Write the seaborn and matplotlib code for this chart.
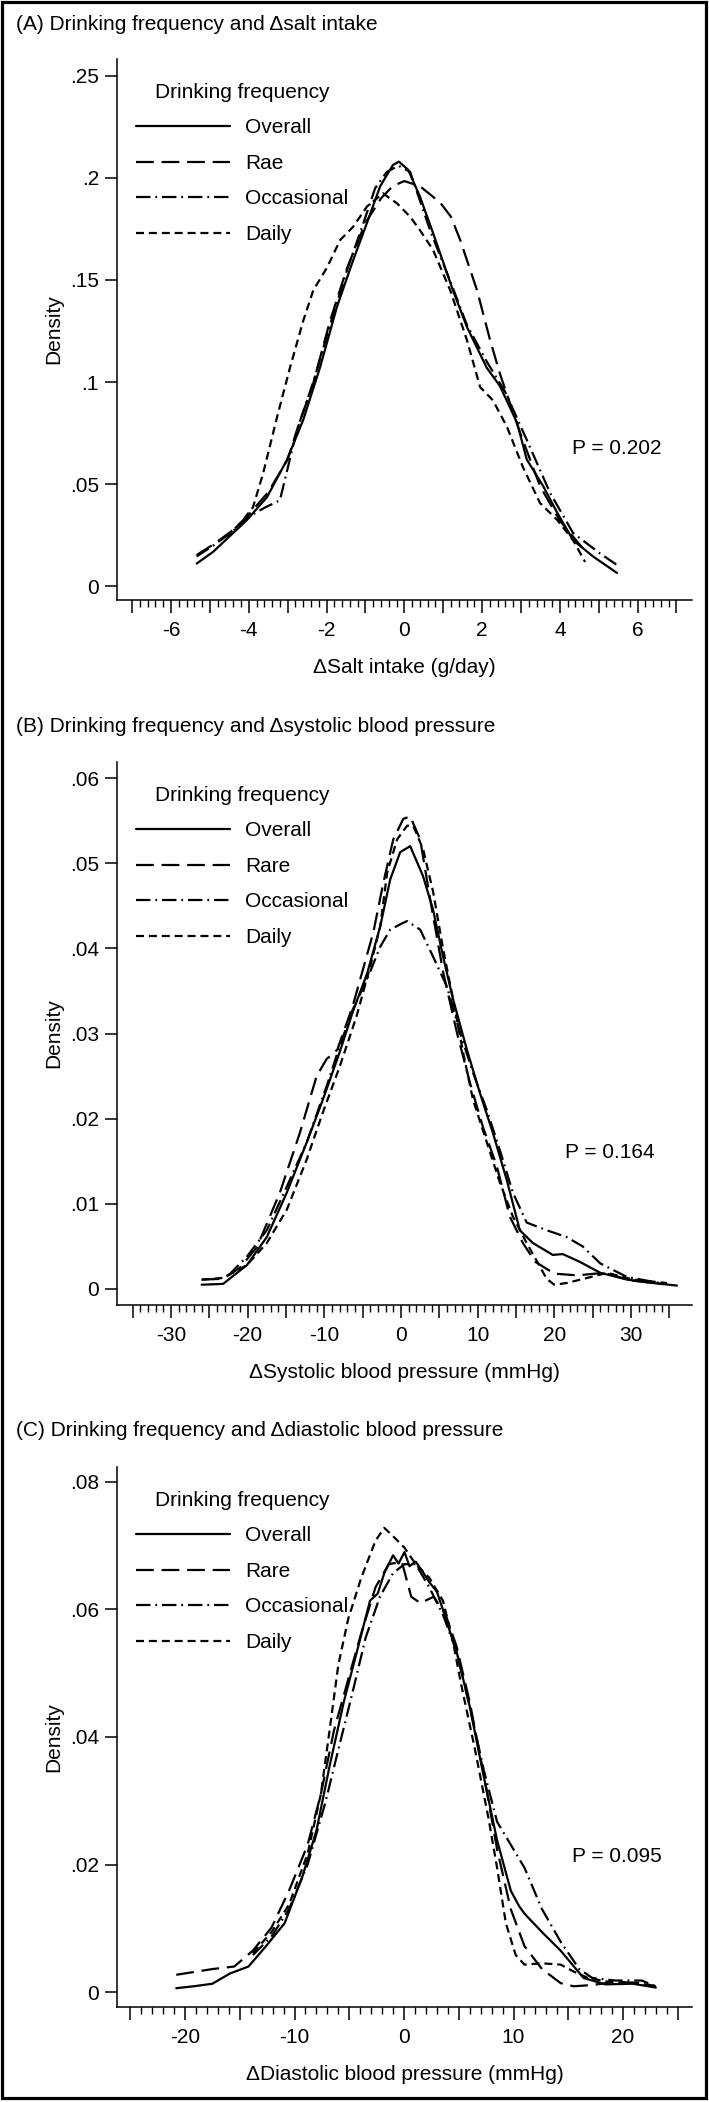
import matplotlib
matplotlib.use("Agg")
import matplotlib.pyplot as plt
import seaborn as sns
import pandas as pd
from matplotlib.patches import Rectangle

sns.set_theme(style="ticks")
plt.rcParams["font.family"] = ["Liberation Sans", "DejaVu Sans"]

# ---------------- data ----------------
# Panel A: delta salt intake (g/day)
a_overall_x = [-5.34, -4.92, -4.05, -3.53, -3.02, -2.6, -2.17, -1.73, -1.31, -0.96, -0.62, -0.29, -0.14, 0.1, 0.4, 0.74, 1.25, 1.61, 2.12, 2.46, 2.9, 3.15, 3.57, 3.93, 4.34, 4.86, 5.47]
a_overall_y = [0.011, 0.0167, 0.0323, 0.0436, 0.0618, 0.0814, 0.107, 0.137, 0.160, 0.178, 0.196, 0.2064, 0.208, 0.204, 0.191, 0.173, 0.145, 0.127, 0.107, 0.098, 0.080, 0.062, 0.049, 0.036, 0.0225, 0.0144, 0.0064]
a_rare_x = [-5.34, -4.9, -4.4, -4.0, -3.5, -3.0, -2.76, -2.34, -1.91, -1.47, -1.0, -0.6, -0.3, 0.0, 0.4, 0.92, 1.2, 1.43, 1.87, 2.2, 2.46, 2.98, 3.49, 4.0, 4.7]
a_rare_y = [0.0152, 0.0205, 0.0275, 0.035, 0.046, 0.062, 0.0765, 0.0995, 0.130, 0.156, 0.178, 0.19, 0.196, 0.1985, 0.196, 0.188, 0.181, 0.170, 0.145, 0.121, 0.104, 0.075, 0.049, 0.032, 0.016]
a_occ_x = [-5.34, -4.9, -4.4, -4.0, -3.58, -3.2, -2.76, -2.34, -1.91, -1.47, -1.05, -0.75, -0.45, -0.15, 0.15, 0.66, 1.25, 1.61, 2.12, 2.6, 3.15, 3.75, 4.34, 5.03, 5.47]
a_occ_y = [0.0145, 0.020, 0.027, 0.034, 0.0385, 0.042, 0.0765, 0.100, 0.128, 0.155, 0.178, 0.195, 0.203, 0.206, 0.203, 0.1745, 0.146, 0.128, 0.110, 0.095, 0.0716, 0.0456, 0.026, 0.016, 0.0103]
a_daily_x = [-4.6, -4.2, -3.89, -3.63, -3.27, -2.94, -2.6, -2.34, -1.99, -1.65, -1.32, -0.96, -0.55, -0.19, 0.15, 0.4, 0.74, 1.18, 1.61, 1.95, 2.28, 2.64, 3.05, 3.49, 3.93, 4.34, 4.65]
a_daily_y = [0.024, 0.031, 0.0387, 0.0553, 0.083, 0.107, 0.130, 0.145, 0.156, 0.1696, 0.176, 0.186, 0.1925, 0.1876, 0.181, 0.1745, 0.1647, 0.145, 0.1206, 0.0975, 0.091, 0.078, 0.0583, 0.0407, 0.0324, 0.0225, 0.0118]

# Panel B: delta systolic blood pressure (mmHg)
b_overall_x = [-26.0, -23.2, -20.1, -17.5, -14.9, -12.3, -10.2, -8.0, -6.3, -4.4, -2.7, -1.4, -0.1, 1.2, 2.87, 4.17, 5.5, 6.8, 8.6, 10.3, 12.0, 13.8, 15.5, 17.2, 19.8, 21.1, 23.3, 26.0, 29.5, 32.9, 36.0]
b_overall_y = [0.0005, 0.0006, 0.0028, 0.0061, 0.0113, 0.0172, 0.0222, 0.0278, 0.0325, 0.0371, 0.0426, 0.0481, 0.0513, 0.052, 0.0485, 0.0446, 0.039, 0.034, 0.0281, 0.023, 0.0183, 0.0128, 0.0069, 0.0054, 0.004, 0.0041, 0.0032, 0.0019, 0.0011, 0.0007, 0.0004]
b_rare_x = [-26.0, -23.2, -21.0, -18.8, -15.8, -13.2, -11.0, -9.7, -8.3, -6.3, -3.6, -2.3, -1.0, 0.3, 1.2, 2.5, 3.8, 5.5, 7.3, 9.0, 10.7, 12.5, 14.2, 15.9, 17.5, 20.0, 23.0, 26.5, 30.0, 34.0]
b_rare_y = [0.0011, 0.0012, 0.0025, 0.0049, 0.0113, 0.0183, 0.025, 0.027, 0.0281, 0.0332, 0.0419, 0.0477, 0.0528, 0.0552, 0.0555, 0.0528, 0.0458, 0.0372, 0.0301, 0.0242, 0.019, 0.0144, 0.0085, 0.0054, 0.0032, 0.0018, 0.0016, 0.0019, 0.001, 0.0006]
b_occ_x = [-22.5, -20.1, -17.5, -14.9, -12.3, -9.7, -8.0, -6.3, -4.4, -2.7, -1.4, 0.3, 0.8, 2.5, 4.2, 6.0, 7.7, 9.4, 11.2, 12.9, 14.6, 16.4, 19.0, 21.6, 23.7, 26.0, 29.5, 33.8]
b_occ_y = [0.0016, 0.0038, 0.0069, 0.012, 0.0172, 0.0238, 0.0285, 0.0328, 0.0364, 0.0402, 0.0422, 0.043, 0.0432, 0.0422, 0.039, 0.0355, 0.0301, 0.0254, 0.021, 0.0163, 0.0113, 0.0078, 0.0069, 0.0061, 0.005, 0.003, 0.0014, 0.0007]
b_daily_x = [-26.0, -23.2, -20.1, -17.5, -14.9, -12.3, -10.2, -8.0, -5.8, -4.0, -2.7, -1.8, -0.5, 0.8, 1.6, 2.9, 4.2, 5.5, 6.8, 8.1, 9.4, 11.2, 12.9, 14.6, 16.4, 19.0, 20.0, 21.6, 24.3, 26.9, 30.3, 34.7]
b_daily_y = [0.0011, 0.0013, 0.0028, 0.0054, 0.0093, 0.0152, 0.0207, 0.0261, 0.032, 0.0379, 0.0426, 0.0489, 0.0528, 0.0544, 0.0544, 0.0516, 0.0466, 0.0399, 0.034, 0.0278, 0.0222, 0.0172, 0.0125, 0.0085, 0.0054, 0.0012, 0.0005, 0.0007, 0.0013, 0.0019, 0.0011, 0.0007]

# Panel C: delta diastolic blood pressure (mmHg)
c_overall_x = [-20.8, -19.2, -17.5, -15.9, -14.2, -12.6, -10.9, -9.3, -8.0, -6.8, -5.5, -4.3, -3.1, -2.4, -1.8, -1.0, -0.5, 0.04, 0.5, 1.07, 1.6, 2.3, 3.0, 3.55, 4.2, 4.8, 6.0, 7.27, 8.5, 9.75, 10.5, 11.0, 12.6, 14.3, 16.4, 18.4, 20.9, 23.0]
c_overall_y = [0.0006, 0.0009, 0.0013, 0.0029, 0.004, 0.0072, 0.0108, 0.018, 0.0253, 0.0354, 0.0455, 0.0534, 0.0614, 0.0625, 0.0657, 0.0685, 0.0672, 0.069, 0.0668, 0.0675, 0.0662, 0.0643, 0.0628, 0.060, 0.0565, 0.0534, 0.0448, 0.0339, 0.0238, 0.0159, 0.0135, 0.0123, 0.0094, 0.0065, 0.0022, 0.0012, 0.0013, 0.0007]
c_rare_x = [-20.8, -17.5, -15.5, -13.8, -12.1, -10.5, -8.8, -7.6, -6.4, -5.1, -3.9, -2.6, -1.4, -0.2, 0.66, 1.5, 2.7, 3.8, 4.8, 6.0, 7.3, 8.5, 9.75, 11.0, 12.6, 14.3, 15.5, 17.2, 19.3, 21.7, 23.0]
c_rare_y = [0.0027, 0.0036, 0.004, 0.0065, 0.0101, 0.0159, 0.0231, 0.031, 0.041, 0.049, 0.0563, 0.0635, 0.0671, 0.0675, 0.062, 0.061, 0.062, 0.0592, 0.0542, 0.0455, 0.034, 0.0224, 0.013, 0.0072, 0.0036, 0.0014, 0.0009, 0.0011, 0.0016, 0.0014, 0.0009]
c_occ_x = [-13.8, -12.1, -10.5, -8.8, -7.2, -6.0, -4.7, -3.5, -2.2, -1.0, 0.04, 1.07, 2.3, 3.55, 4.8, 6.0, 7.3, 8.5, 9.75, 11.0, 12.6, 14.3, 16.0, 17.2, 19.3, 21.7, 23.0]
c_occ_y = [0.0058, 0.0087, 0.013, 0.020, 0.0296, 0.038, 0.047, 0.0556, 0.062, 0.0657, 0.0671, 0.0671, 0.0635, 0.0592, 0.0534, 0.0448, 0.0347, 0.0267, 0.0231, 0.0195, 0.013, 0.0079, 0.0036, 0.0022, 0.0018, 0.0018, 0.0009]
c_daily_x = [-13.8, -12.1, -10.5, -8.8, -7.6, -6.8, -6.0, -5.1, -3.9, -2.6, -1.8, -1.0, 0.04, 1.07, 2.3, 3.55, 4.4, 5.2, 6.45, 7.7, 8.5, 9.3, 10.2, 11.0, 12.6, 14.3, 15.5, 16.8, 19.0, 21.5, 23.0]
c_daily_y = [0.0061, 0.0094, 0.0137, 0.0217, 0.031, 0.041, 0.0513, 0.0585, 0.065, 0.0708, 0.0728, 0.0715, 0.0697, 0.0671, 0.065, 0.0614, 0.0556, 0.0484, 0.0383, 0.0274, 0.0195, 0.0108, 0.0058, 0.0043, 0.0045, 0.0043, 0.0032, 0.0022, 0.0015, 0.0014, 0.0008]

legend_title = "Drinking frequency"
names_a = ["Overall", "Rae", "Occasional", "Daily"]
names_bc = ["Overall", "Rare", "Occasional", "Daily"]

titles = ["(A) Drinking frequency and \u0394salt intake",
          "(B) Drinking frequency and \u0394systolic blood pressure",
          "(C) Drinking frequency and \u0394diastolic blood pressure"]
xlabels = ["\u0394Salt intake (g/day)",
           "\u0394Systolic blood pressure (mmHg)",
           "\u0394Diastolic blood pressure (mmHg)"]
p_texts = ["P = 0.202", "P = 0.164", "P = 0.095"]

a_yticks = [0, 0.05, 0.1, 0.15, 0.2, 0.25]
a_yticklabels = ["0", ".05", ".1", ".15", ".2", ".25"]
b_yticks = [0, 0.01, 0.02, 0.03, 0.04, 0.05, 0.06]
b_yticklabels = ["0", ".01", ".02", ".03", ".04", ".05", ".06"]
c_yticks = [0, 0.02, 0.04, 0.06, 0.08]
c_yticklabels = ["0", ".02", ".04", ".06", ".08"]

a_xlabeled = [-6, -4, -2, 0, 2, 4, 6]
b_xlabeled = [-30, -20, -10, 0, 10, 20, 30]
c_xlabeled = [-20, -10, 0, 10, 20]

# ---------------- layout ----------------
W, H = 709, 2102
fig = plt.figure(figsize=(W / 100, H / 100), dpi=100)
fig.patch.set_facecolor("white")

STYLES = [
    "-",
    (0, (8, 3.5)),
    (0, (6.5, 2.2, 0.8, 2.2)),
    (0, (3.6, 2.2)),
]
LW = 1.6
FS = 15

panels = [
    dict(top=59, bottom=600, xlim=(-7.389, 7.399), ylim=(-0.00686, 0.25833),
         series=[(a_overall_x, a_overall_y), (a_rare_x, a_rare_y), (a_occ_x, a_occ_y), (a_daily_x, a_daily_y)],
         names=names_a, yticks=a_yticks, yticklabels=a_yticklabels,
         xmajor_step=1, xminor_step=0.2, xrange=(-7, 7), xlabeled=a_xlabeled, title_y=24, p_x=572),
    dict(top=762, bottom=1305, xlim=(-37.04, 37.96), ylim=(-0.00188, 0.06188),
         series=[(b_overall_x, b_overall_y), (b_rare_x, b_rare_y), (b_occ_x, b_occ_y), (b_daily_x, b_daily_y)],
         names=names_bc, yticks=b_yticks, yticklabels=b_yticklabels,
         xmajor_step=5, xminor_step=1, xrange=(-35, 35), xlabeled=b_xlabeled, title_y=726, p_x=565),
    dict(top=1467, bottom=2007, xlim=(-26.21, 26.30), ylim=(-0.00235, 0.08235),
         series=[(c_overall_x, c_overall_y), (c_rare_x, c_rare_y), (c_occ_x, c_occ_y), (c_daily_x, c_daily_y)],
         names=names_bc, yticks=c_yticks, yticklabels=c_yticklabels,
         xmajor_step=5, xminor_step=1, xrange=(-25, 25), xlabeled=c_xlabeled, title_y=1430, p_x=572),
]

LEFT, RIGHT = 117, 692

def frange(a, b, step):
    n = int(round((b - a) / step))
    return [a + i * step for i in range(n + 1)]

for i, p in enumerate(panels):
    top, bottom = p["top"], p["bottom"]
    ax = fig.add_axes([LEFT / W, 1 - bottom / H, (RIGHT - LEFT) / W, (bottom - top) / H])
    ax.set_facecolor("white")
    for (xs, ys), name, ls in zip(p["series"], p["names"], STYLES):
        df = pd.DataFrame({"x": xs, "y": ys})
        sns.lineplot(data=df, x="x", y="y", ax=ax, color="black", linewidth=LW,
                     linestyle=ls, label=name, sort=False, estimator=None)
    ax.set_xlim(*p["xlim"])
    ax.set_ylim(*p["ylim"])
    ax.grid(False)
    for s in ["top", "right"]:
        ax.spines[s].set_visible(False)
    for s in ["left", "bottom"]:
        ax.spines[s].set_color("black")
        ax.spines[s].set_linewidth(1.1)

    ax.set_yticks(p["yticks"])
    ax.set_yticklabels(p["yticklabels"])
    majors = frange(p["xrange"][0], p["xrange"][1], p["xmajor_step"])
    majors = [round(m, 6) for m in majors]
    labels = []
    for m in majors:
        if any(abs(m - l) < 1e-9 for l in p["xlabeled"]):
            labels.append(str(int(round(m))))
        else:
            labels.append("")
    ax.set_xticks(majors)
    ax.set_xticklabels(labels)
    minors = frange(p["xrange"][0], p["xrange"][1], p["xminor_step"])
    ax.set_xticks(minors, minor=True)
    ax.tick_params(axis="both", which="major", direction="out", length=9, width=1.1,
                   color="black", labelsize=FS, labelcolor="black")
    ax.tick_params(axis="y", which="major", pad=4)
    ax.tick_params(axis="x", which="major", pad=6)
    ax.tick_params(axis="x", which="minor", direction="out", length=5, width=1.0, color="black")
    ax.tick_params(axis="y", which="minor", left=False)

    ax.set_ylabel("Density", fontsize=FS, color="black")
    ax.yaxis.set_label_coords((63 - LEFT) / (RIGHT - LEFT), 0.5)
    ax.set_xlabel(xlabels[i], fontsize=FS, color="black")
    ax.xaxis.set_label_coords(0.5, -58 / (bottom - top))

    leg = ax.legend(title=legend_title, loc="upper left",
                    bbox_to_anchor=(136 / W, 1 - (top + 24) / H), bbox_transform=fig.transFigure,
                    frameon=False, fontsize=FS, title_fontsize=FS, handlelength=4.5,
                    handletextpad=0.75, labelspacing=0.79, borderpad=0, borderaxespad=0)
    for t in leg.get_texts():
        t.set_color("black")
    leg.get_title().set_color("black")

    fig.text(16 / W, 1 - p["title_y"] / H, titles[i], fontsize=FS, ha="left", va="center", color="black")
    fig.text(p["p_x"] / W, 1 - (top + 390) / H, p_texts[i], fontsize=FS, ha="left", va="center", color="black")

# outer frame
fig.patches.append(Rectangle((1.5 / W, 4 / H), 704 / W, (H - 5.5) / H, transform=fig.transFigure,
                             fill=False, edgecolor="black", linewidth=2.3))

fig.savefig("out.png", dpi=100, facecolor="white")
